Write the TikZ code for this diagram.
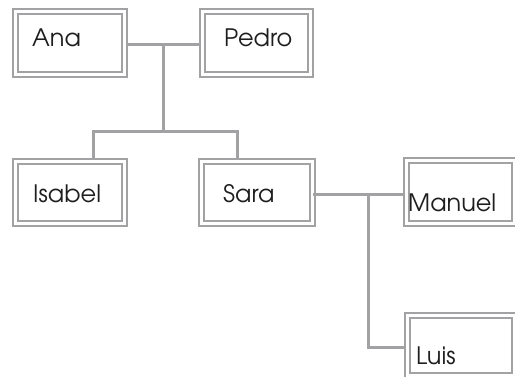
\documentclass[tikz,border=0pt]{standalone}
\usepackage{fontspec}
\setmainfont{TeX Gyre Adventor}
\begin{document}
\begin{tikzpicture}[x=1pt,y=-1pt,
  box/.style={draw=linegray,double=white,double distance=2.7pt,line width=2pt,fill=white,inner sep=0pt,rectangle},
  conn/.style={draw=linegray,line width=3pt},
  lbl/.style={anchor=base west,inner sep=0pt,font=\fontsize{24}{24}\selectfont,text=textcol}]
\definecolor{linegray}{HTML}{A2A2A4}
\definecolor{textcol}{HTML}{1E1E1E}
\useasboundingbox (0,0) rectangle (515,377);
\begin{scope}
\clip (0,0) rectangle (515,377);
% connectors
\coordinate (j1) at (163,45);
\coordinate (j2) at (163,132);
\coordinate (jl) at (93,132);
\coordinate (jr) at (237,132);
\coordinate (k1) at (368,195);
\coordinate (k2) at (368,348);
% boxes
\node[box,minimum width=109.5pt,minimum height=63.5pt] (ana) at (70,43) {};
\node[box,minimum width=108.5pt,minimum height=63.5pt] (pedro) at (256.5,43) {};
\node[box,minimum width=109.5pt,minimum height=62.5pt] (isabel) at (70,192.5) {};
\node[box,minimum width=110.5pt,minimum height=62.5pt] (sara) at (257,192.5) {};
\node[box,minimum width=108.5pt,minimum height=63.5pt] (manuel) at (460.5,192) {};
\node[box,minimum width=107.5pt,minimum height=60.5pt] (luis) at (461,345.5) {};
\draw[conn] (ana.east |- j1) -- (pedro.west |- j1);
\draw[conn] (j1) -- (j2);
\draw[conn] (isabel.north -| jl) -- (jl) -- (jr) -- (sara.north -| jr);
\draw[conn] (sara.east |- k1) -- (manuel.west |- k1);
\draw[conn] (k1) -- (k2) -- (luis.west |- k2);
% texts
\node[lbl] (anaT) at (32,47) {Ana};
\node[lbl] (pedroT) at (224,47) {Pedro};
\node[lbl] (isabelT) at (33,203) {Isabel};
\node[lbl] (saraT) at (223,203) {Sara};
\node[lbl] (manuelT) at (408,212) {Manuel};
\node[lbl] (luisT) at (416,365) {Luis};
\end{scope}
\end{tikzpicture}
\end{document}
